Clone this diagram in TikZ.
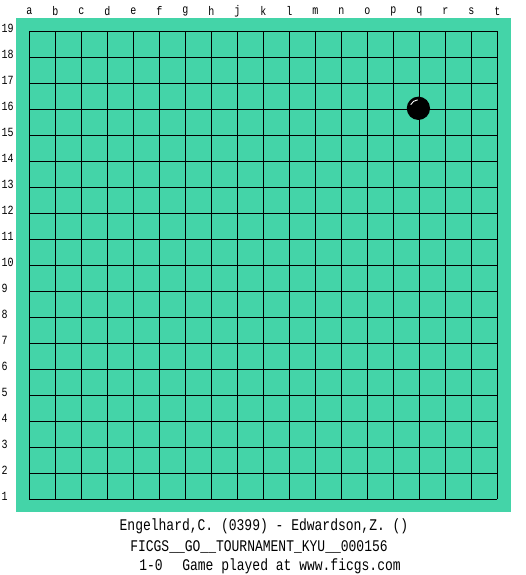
\documentclass[tikz,border=0pt]{standalone}
\usepackage{fontspec}
\setmonofont{Liberation Mono}
\definecolor{board}{RGB}{68,212,168}
\newcommand\tall[1]{\scalebox{1}[1.25]{#1}}

\begin{document}
\begin{tikzpicture}[x=1pt,y=-1pt,
  lbl/.style={font=\ttfamily\fontsize{10}{10}\selectfont,inner sep=0pt},
  caption/.style={font=\ttfamily\fontsize{13}{13}\selectfont,inner sep=0pt,anchor=base}]
\useasboundingbox (0,0) rectangle (525,575);
\fill[board] (16,18) rectangle (511,512);
% grid
\foreach \i in {0,...,18} {
  \draw[line width=1.5pt] (29.3+26*\i,31.3) -- (29.3+26*\i,499.3);
  \draw[line width=1.5pt] (29.3,31.3+26*\i) -- (497.3,31.3+26*\i);
}
% coordinates
\foreach \l [count=\i from 0] in {a,b,c,d,e,f,g,h,j,k,l,m,n,o,p,q,r,s,t}
  \node[lbl] (col-\l) at (29.3+26*\i,11) {\tall{\l}};
\foreach \n in {1,...,19}
  \node[lbl,anchor=west] (row-\n) at (1.5,496.3-26*\n+26) {\tall{\n}};
% stone
\node[circle,fill=black,minimum size=23.3pt,inner sep=0pt] (q16) at (418.4,108.3) {};
\draw[white,line width=0.9pt] ([shift={(95:8.5pt)}]q16.center) arc[start angle=95,end angle=155,radius=8.5pt];
% game info
\node[caption] (players) at (264,530.3) {\tall{Engelhard,C. (0399) - Edwardson,Z. ()}};
\node[caption] (event) at (259,551.7) {\tall{FICGS\_\_GO\_\_TOURNAMENT\_KYU\_\_000156}};
\node[caption] (result) at (270,570) {\tall{1-0\ \ \kern4pt Game played at www.ficgs.com}};
\end{tikzpicture}
\end{document}
